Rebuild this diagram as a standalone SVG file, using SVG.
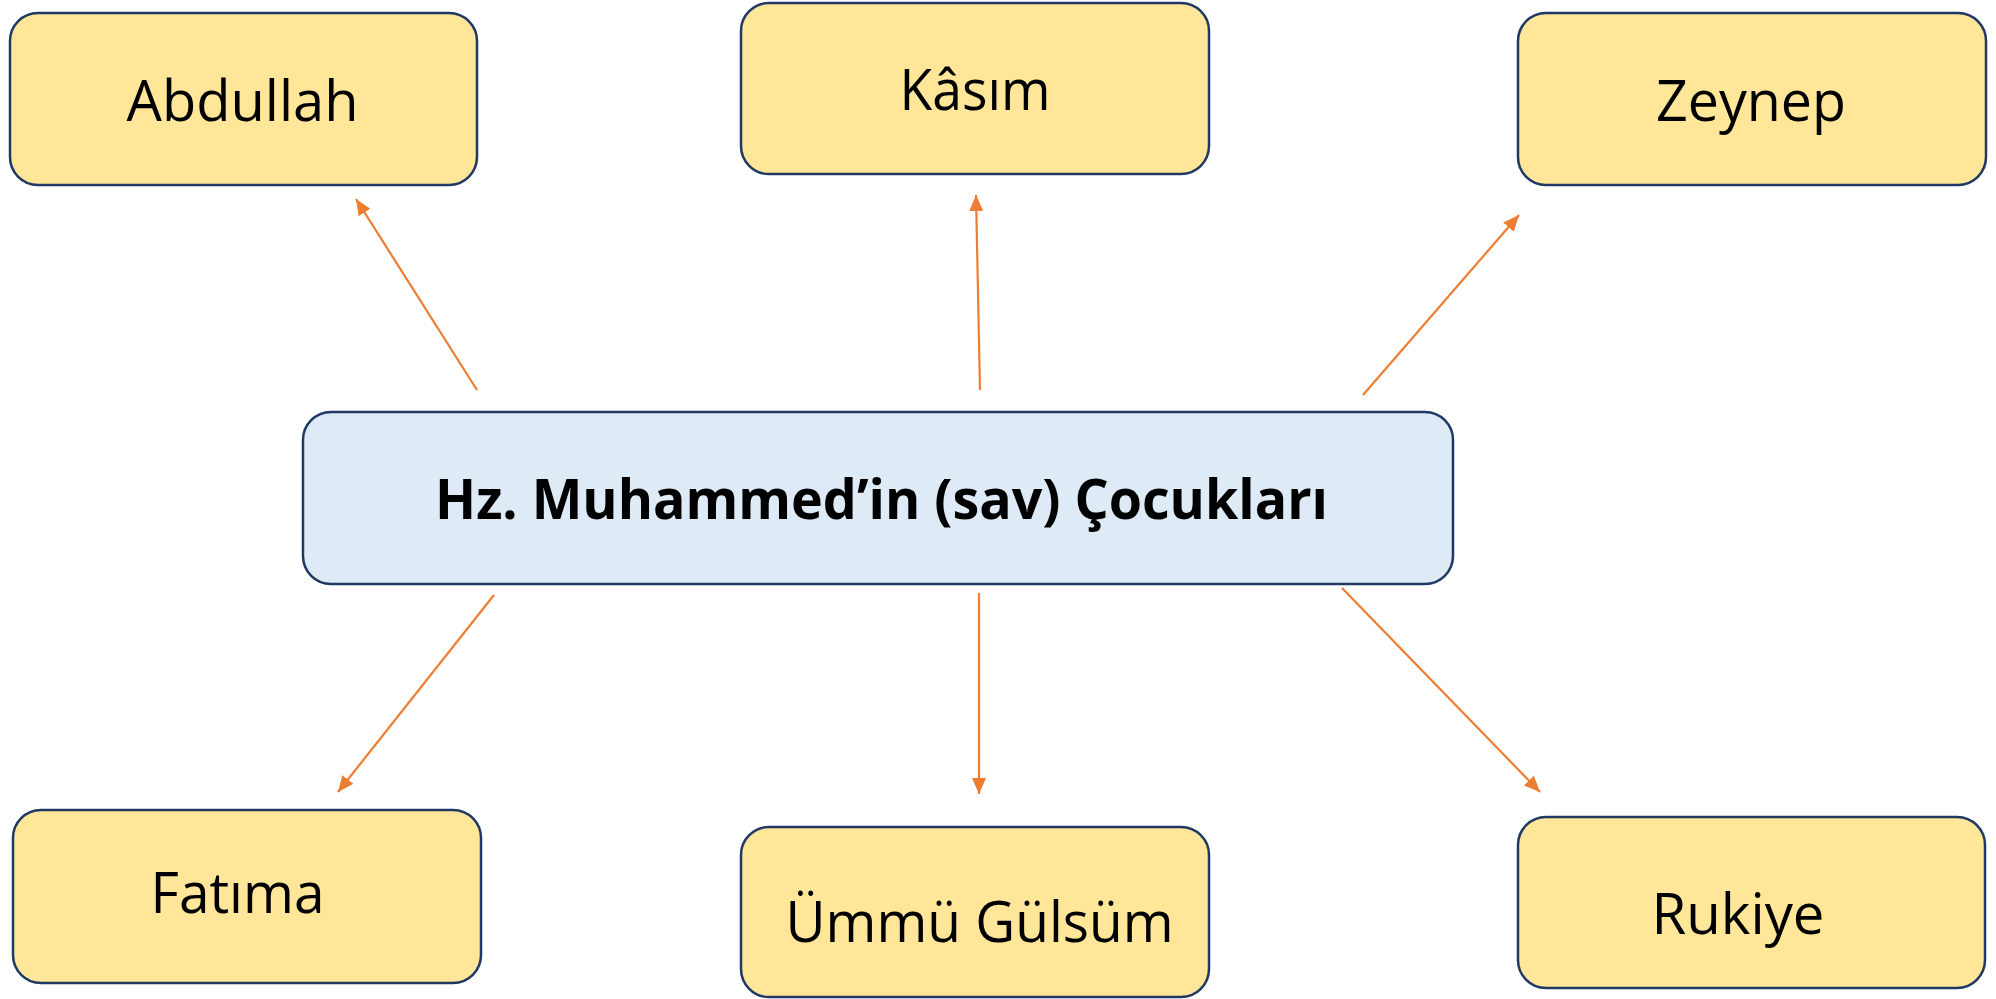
<svg xmlns="http://www.w3.org/2000/svg" width="1996" height="999" viewBox="0 0 1996 999">
<style>
.child{fill:#FFE699;stroke:#1F3864;stroke-width:2.5}
.root{fill:#DEEBF7;stroke:#1F3864;stroke-width:2.5}
.lbl{font-family:"Open Sans","Noto Sans",sans-serif;font-size:57px;fill:#000;text-anchor:middle}
.title{font-family:"Open Sans","Noto Sans",sans-serif;font-size:56px;font-weight:bold;fill:#000;text-anchor:middle}
.conn{stroke:#ED7D31;stroke-width:2.2;fill:none;marker-end:url(#ah)}
</style>
<defs>
<marker id="ah" markerUnits="userSpaceOnUse" markerWidth="16" markerHeight="14" refX="16" refY="7" orient="auto">
<path d="M0,0 L16,7 L0,14 z" fill="#ED7D31"/>
</marker>
</defs>
<rect width="1996" height="999" fill="#fff"/>
<g id="connectors">
<line class="conn" x1="477" y1="390" x2="356" y2="199"/>
<line class="conn" x1="980" y1="390" x2="976" y2="195"/>
<line class="conn" x1="1363" y1="395" x2="1519" y2="215"/>
<line class="conn" x1="494" y1="595" x2="338" y2="792"/>
<line class="conn" x1="979" y1="593" x2="979" y2="794"/>
<line class="conn" x1="1342" y1="588" x2="1540" y2="792"/>
</g>
<g id="root">
<rect class="root" x="303" y="412" width="1150" height="172" rx="28"/>
<text class="title" x="881.5" y="519" textLength="893" lengthAdjust="spacingAndGlyphs">Hz. Muhammed’in (sav) Çocukları</text>
</g>
<g id="abdullah">
<rect class="child" x="10" y="13" width="467" height="172" rx="28"/>
<text class="lbl" x="242.5" y="121" textLength="232" lengthAdjust="spacingAndGlyphs">Abdullah</text>
</g>
<g id="kasim">
<rect class="child" x="741" y="3" width="468" height="171" rx="28"/>
<text class="lbl" x="975" y="110" textLength="151" lengthAdjust="spacingAndGlyphs">Kâsım</text>
</g>
<g id="zeynep">
<rect class="child" x="1518" y="13" width="468" height="172" rx="28"/>
<text class="lbl" x="1751" y="121" textLength="190" lengthAdjust="spacingAndGlyphs">Zeynep</text>
</g>
<g id="fatima">
<rect class="child" x="13" y="810" width="468" height="173" rx="28"/>
<text class="lbl" x="237.5" y="913" textLength="174" lengthAdjust="spacingAndGlyphs">Fatıma</text>
</g>
<g id="ummu-gulsum">
<rect class="child" x="741" y="827" width="468" height="170" rx="28"/>
<text class="lbl" x="979.5" y="942" textLength="388" lengthAdjust="spacingAndGlyphs">Ümmü Gülsüm</text>
</g>
<g id="rukiye">
<rect class="child" x="1518" y="817" width="467" height="171" rx="28"/>
<text class="lbl" x="1738" y="934" textLength="173" lengthAdjust="spacingAndGlyphs">Rukiye</text>
</g>
</svg>
